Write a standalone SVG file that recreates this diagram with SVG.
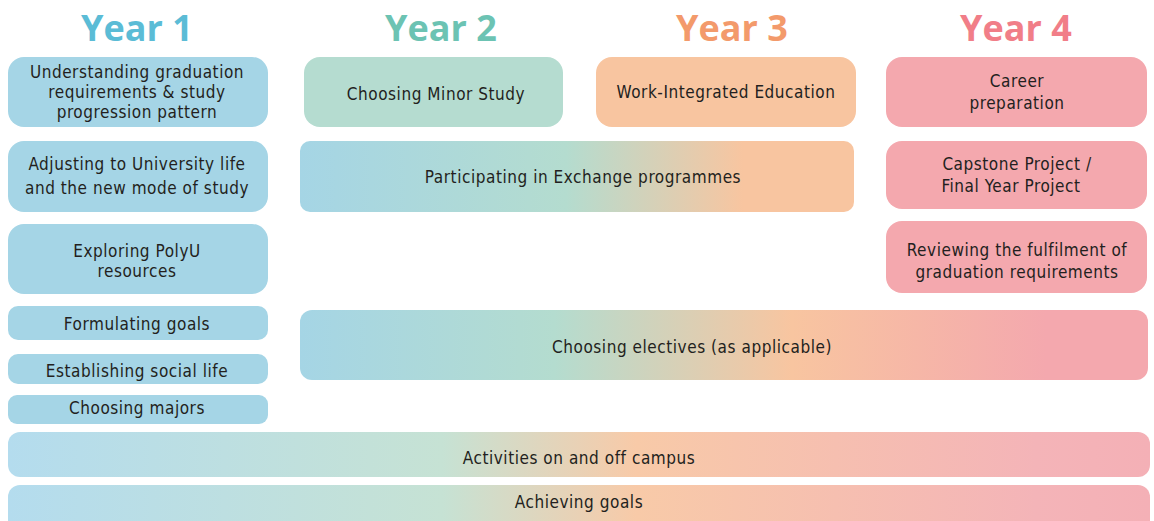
<svg xmlns="http://www.w3.org/2000/svg" width="1154" height="521" viewBox="0 0 1154 521">
<defs>
<linearGradient id="gEx" x1="0" y1="0" x2="1" y2="0">
<stop offset="0" stop-color="#a5d5e5"/>
<stop offset="0.48" stop-color="#b4dccf"/>
<stop offset="0.8" stop-color="#f8c5a0"/>
<stop offset="1" stop-color="#f8c5a0"/>
</linearGradient>
<linearGradient id="gEl" x1="0" y1="0" x2="1" y2="0">
<stop offset="0" stop-color="#a5d5e5"/>
<stop offset="0.3" stop-color="#b4dccf"/>
<stop offset="0.58" stop-color="#f8c5a0"/>
<stop offset="0.88" stop-color="#f4a8ae"/>
<stop offset="1" stop-color="#f4a8ae"/>
</linearGradient>
<linearGradient id="gBar" x1="0" y1="0" x2="1" y2="0">
<stop offset="0" stop-color="#b4dcee"/>
<stop offset="0.38" stop-color="#c6e2d4"/>
<stop offset="0.55" stop-color="#f8caa8"/>
<stop offset="0.9" stop-color="#f4b4b8"/>
<stop offset="1" stop-color="#f4b0b6"/>
</linearGradient>
</defs>
<style>
text{font-family:"DejaVu Sans Condensed","Open Sans",sans-serif;font-size:17px;letter-spacing:0.55px;fill:#231f20;text-anchor:middle;}
.t{font-family:"Open Sans","Liberation Sans",sans-serif;font-size:36px;letter-spacing:0;font-weight:bold;}
.b{fill:#a5d5e6;}
.g{fill:#b5dcd0;}
.o{fill:#f8c5a0;}
.p{fill:#f4a8ae;}
</style>
<rect width="1154" height="521" fill="#ffffff"/>
<g id="titles">
<text class="t" x="137" y="41" style="fill:#5bbcd6">Year 1</text>
<text class="t" x="441" y="41" style="fill:#6cc3b3">Year 2</text>
<text class="t" x="732" y="41" style="fill:#f39a6b">Year 3</text>
<text class="t" x="1016" y="41" style="fill:#f17e88">Year 4</text>
</g>
<g id="n1"><rect class="b" x="8" y="57" width="260" height="70" rx="16"/><text x="137" y="78">Understanding graduation</text><text x="137" y="98">requirements &amp; study</text><text x="137" y="118">progression pattern</text></g>
<g id="n2"><rect class="b" x="8" y="141" width="260" height="71" rx="16"/><text x="137" y="170">Adjusting to University life</text><text x="137" y="194">and the new mode of study</text></g>
<g id="n3"><rect class="b" x="8" y="224" width="260" height="70" rx="16"/><text x="137" y="257">Exploring PolyU</text><text x="137" y="277">resources</text></g>
<g id="n4"><rect class="b" x="8" y="306" width="260" height="34" rx="10"/><text x="137" y="330">Formulating goals</text></g>
<g id="n5"><rect class="b" x="8" y="354" width="260" height="30" rx="10"/><text x="137" y="377">Establishing social life</text></g>
<g id="n6"><rect class="b" x="8" y="395" width="260" height="29" rx="9"/><text x="137" y="414">Choosing majors</text></g>
<g id="n7"><rect class="g" x="304" y="57" width="259" height="70" rx="16"/><text x="436" y="100">Choosing Minor Study</text></g>
<g id="n8"><rect class="o" x="596" y="57" width="260" height="70" rx="16"/><text x="726" y="98">Work-Integrated Education</text></g>
<g id="n9"><rect class="p" x="886" y="57" width="261" height="70" rx="16"/><text x="1017" y="87">Career</text><text x="1017" y="109">preparation</text></g>
<g id="n10"><rect fill="url(#gEx)" x="300" y="141" width="554" height="71" rx="10"/><text x="583" y="183">Participating in Exchange programmes</text></g>
<g id="n11"><rect class="p" x="886" y="141" width="261" height="68" rx="16"/><text x="1017" y="170">Capstone Project /</text><text x="1011" y="192">Final Year Project</text></g>
<g id="n12"><rect class="p" x="886" y="221" width="261" height="72" rx="16"/><text x="1017" y="256">Reviewing the fulfilment of</text><text x="1017" y="278">graduation requirements</text></g>
<g id="n13"><rect fill="url(#gEl)" x="300" y="310" width="848" height="70" rx="12"/><text x="692" y="353">Choosing electives (as applicable)</text></g>
<g id="n14"><rect fill="url(#gBar)" x="8" y="432" width="1142" height="45" rx="12"/><text x="579" y="464">Activities on and off campus</text></g>
<g id="n15"><rect fill="url(#gBar)" x="8" y="485" width="1142" height="50" rx="12"/><text x="579" y="508">Achieving goals</text></g>
<g id="connectors"></g>
</svg>
